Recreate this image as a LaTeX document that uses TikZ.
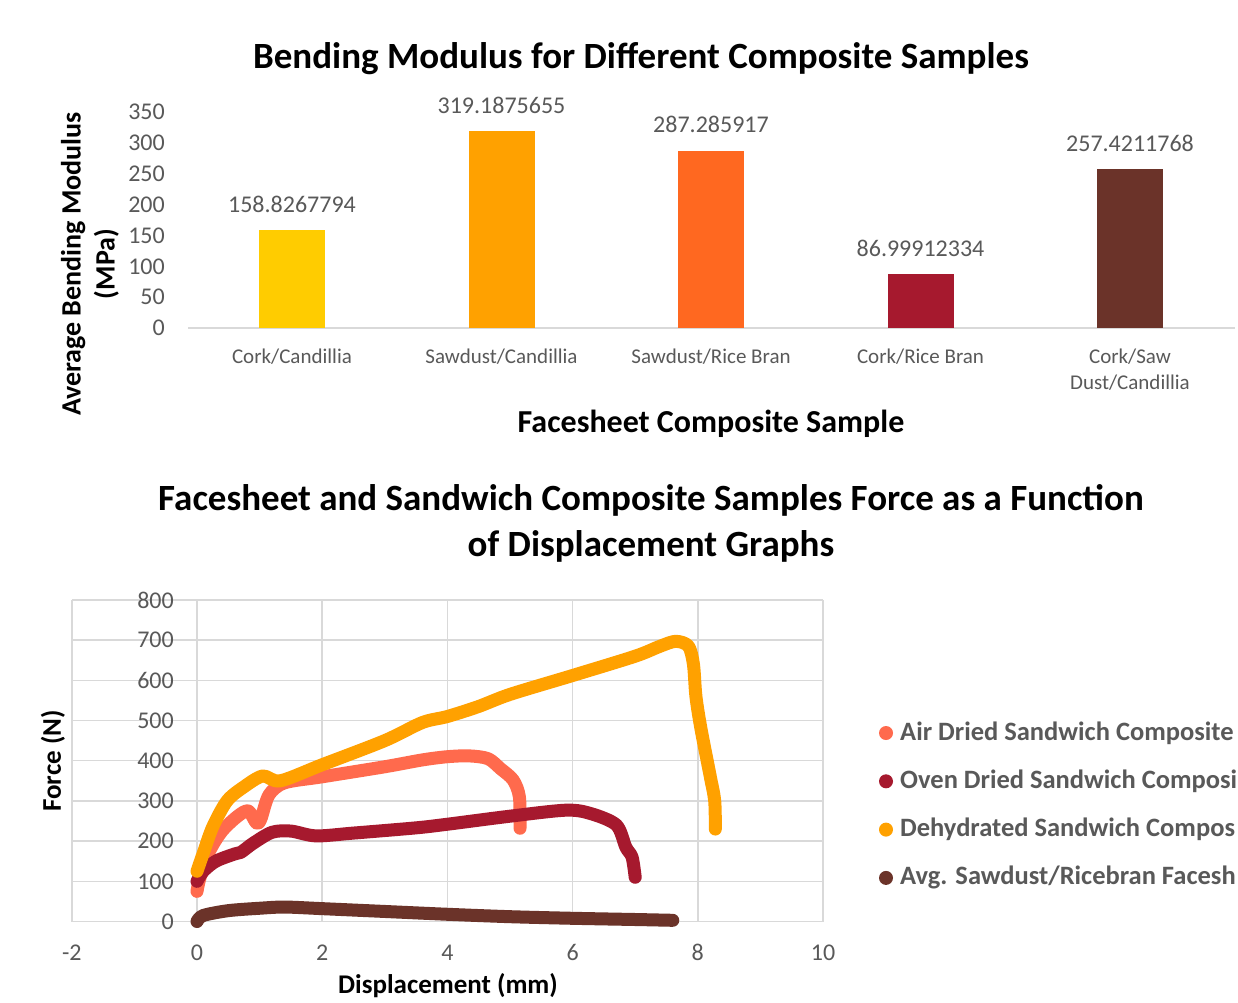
\documentclass[tikz,border=0pt]{standalone}
\usepackage{fontspec}
\setmainfont{Carlito}

\definecolor{tickgray}{HTML}{595959}
\definecolor{gridgray}{HTML}{D9D9D9}
\definecolor{barA}{HTML}{FFCC00}
\definecolor{barB}{HTML}{FFA100}
\definecolor{barC}{HTML}{FF6820}
\definecolor{barD}{HTML}{A6192E}
\definecolor{barE}{HTML}{6B3329}
\definecolor{airdried}{HTML}{FF6A4D}

\begin{document}
\begin{tikzpicture}[x=1pt, y=-1pt,
    charttitle/.style={font=\fontsize{37}{46}\selectfont\bfseries, align=center, inner sep=0pt},
    axistitle/.style={font=\fontsize{27}{34}\selectfont\bfseries, align=center, inner sep=0pt},
    ticklabel/.style={text=tickgray, font=\fontsize{24}{28}\selectfont, inner sep=0pt},
    catlabel/.style={text=tickgray, font=\fontsize{21}{26}\selectfont, align=center, inner sep=0pt},
    legendlabel/.style={text=tickgray, font=\fontsize{26.5}{30}\selectfont\bfseries, anchor=west, inner sep=0pt},
    gridline/.style={draw=gridgray, line width=1.5pt},
    curve/.style={line width=13pt, line cap=round, line join=round},
  ]
  \fill[white] (0,0) rectangle (1238,1002);
  \clip (0,0) rectangle (1238,1002);

  % bending modulus bars
  \node[charttitle] (bmtitle) at (641,59) {Bending Modulus for Different Composite Samples};
  \foreach \v [count=\k from 0] in {0,50,...,350}
    \node[ticklabel, anchor=east] (bmtick\k) at (165,328-\v*0.6171) {\v};
  \draw[gridline] (188,328) -- (1235,328);
  \foreach \i/\val/\lbl/\col in {1/158.8267794/{Cork/Candillia}/barA,
      2/319.1875655/{Sawdust/Candillia}/barB,
      3/287.285917/{Sawdust/Rice Bran}/barC,
      4/86.99912334/{Cork/Rice Bran}/barD,
      5/257.4211768/{Cork/Saw\\Dust/Candillia}/barE} {
    \pgfmathsetmacro\bx{292+(\i-1)*209.5}
    \pgfmathsetmacro\by{328-\val*0.6171}
    \fill[\col] (\bx-33,328) rectangle (\bx+33,\by);
    \node[ticklabel] (bmval\i) at (\bx,\by-26) {\val};
    \node[catlabel, anchor=north] (bmcat\i) at (\bx,349) {\lbl};
  }
  \node[axistitle, font=\fontsize{28}{34}\selectfont\bfseries, rotate=90] (bmylabel) at (90,264) {Average Bending Modulus\\(MPa)};
  \node[axistitle, font=\fontsize{32}{38}\selectfont\bfseries] (bmxlabel) at (711,424) {Facesheet Composite Sample};

  % force vs displacement curves
  \node[charttitle] (fdtitle) at (651,523) {Facesheet and Sandwich Composite Samples Force as a Function\\of Displacement Graphs};
  \begin{scope}[shift={(197,921.5)}, x=62.6pt, y=0.402pt]
    \foreach \f in {0,100,...,800}
      \draw[gridline] (-2,\f) -- (10,\f);
    \foreach \d in {-2,0,...,10}
      \draw[gridline] (\d,0) -- (\d,800);
    \foreach \f in {0,100,...,800}
      \node[ticklabel, anchor=east, xshift=-23pt] (fdytick\f) at (0,\f) {\f};
    \foreach \d in {-2,0,...,10}
      \node[ticklabel, yshift=-31pt] (fdxtick\d) at (\d,0) {\d};

    \draw[curve, airdried] plot[smooth, tension=0.5] coordinates {
      (0,75) (0.05,110) (0.2,175) (0.4,225) (0.65,262) (0.82,275) (0.95,245)
      (1.02,255) (1.15,315) (1.4,345) (2,360) (3,385) (3.6,402) (4,410)
      (4.35,412) (4.65,405) (4.85,380) (5.05,352) (5.15,310) (5.16,232)};
    \draw[curve, barD] plot[smooth, tension=0.5] coordinates {
      (0,100) (0.1,125) (0.3,150) (0.6,168) (0.7,172) (0.9,195) (1.2,222)
      (1.5,225) (1.9,213) (2.5,220) (3.5,233) (4,242) (5,262) (5.9,277)
      (6.3,268) (6.7,240) (6.85,185) (6.95,160) (7,110)};
    \draw[curve, barB] plot[smooth, tension=0.5] coordinates {
      (0,125) (0.1,170) (0.25,235) (0.48,300) (0.75,335) (1.05,362) (1.33,350)
      (2,390) (3,450) (3.6,495) (4,510) (4.5,535) (5,565) (6,612) (7,660)
      (7.4,685) (7.65,697) (7.85,685) (7.93,640) (7.97,560) (8.05,480)
      (8.2,360) (8.27,300) (8.28,230)};
    \draw[curve, barE] plot[smooth, tension=0.5] coordinates {
      (0,0) (0.1,15) (0.5,27) (1,33) (1.4,36) (2,32) (3,25) (4,18) (5,12)
      (6,8) (7,5) (7.6,3)};
  \end{scope}
  \node[axistitle, rotate=90] (fdylabel) at (53,761) {Force (N)};
  \node[axistitle] (fdxlabel) at (448,986) {Displacement (mm)};

  % legend
  \foreach \i/\col/\lbl in {1/airdried/{Air Dried Sandwich Composite},
      2/barD/{Oven Dried Sandwich Composi},
      3/barB/{Dehydrated Sandwich Compos},
      4/barE/{Avg. Sawdust/Ricebran Facesh}} {
    \fill[\col] (886,733+48.3*\i-48.3) circle (7);
    \node[legendlabel] (fdkey\i) at (900,733+48.3*\i-48.3) {\lbl};
  }
\end{tikzpicture}
\end{document}
